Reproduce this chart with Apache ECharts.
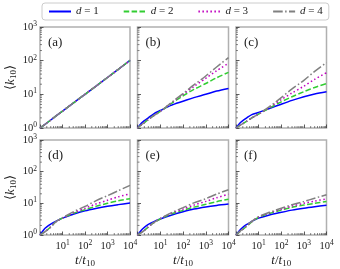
<!DOCTYPE html>
<html><head><meta charset="utf-8">
<script src="https://cdn.jsdelivr.net/npm/echarts@6/dist/echarts.min.js"></script>
<style>html,body{margin:0;padding:0;background:#fff}#c{width:340px;height:269px}</style>
</head><body><div id="c"></div>
<script>
// time points t/t10
const tVals = [1, 1.5, 2, 3, 5, 10, 30, 100, 300, 1000, 3000, 10000];
const legendNames = ['d = 1', 'd = 2', 'd = 3', 'd = 4'];
const panelLabels = ['(a)', '(b)', '(c)', '(d)', '(e)', '(f)'];
const minorMult = [2, 3, 4, 5, 6, 7, 8, 9];
const xDecades = [1, 10, 100, 1000];
const yDecades = [1, 10, 100];

// panel (a): all d coincide
const a_d1 = [1, 1.22, 1.41, 1.73, 2.24, 3.16, 5.5, 10, 17.3, 31.6, 55, 102];
const a_d2 = [1, 1.22, 1.41, 1.73, 2.24, 3.16, 5.5, 10, 17.3, 31.6, 55, 102];
const a_d3 = [1, 1.22, 1.41, 1.73, 2.24, 3.16, 5.5, 10, 17.3, 31.6, 55, 102];
const a_d4 = [1, 1.22, 1.41, 1.73, 2.24, 3.16, 5.5, 10, 17.3, 31.6, 55, 102];
// panel (b)
const b_d1 = [1, 1.4, 1.65, 2.0, 2.6, 3.3, 4.7, 6.2, 8, 10, 12.5, 15];
const b_d2 = [1, 1.25, 1.45, 1.8, 2.3, 3.1, 5.3, 9, 14, 21, 31, 45];
const b_d3 = [1, 1.25, 1.45, 1.8, 2.3, 3.1, 5.5, 10, 17, 30, 50, 84];
const b_d4 = [1, 1.25, 1.45, 1.8, 2.3, 3.1, 5.6, 10.5, 19, 35, 65, 123];
// panel (c)
const c_d1 = [1, 1.4, 1.65, 2.0, 2.5, 2.9, 3.8, 5.1, 6.6, 8.5, 10.3, 12];
const c_d2 = [1, 1.2, 1.35, 1.6, 2.0, 2.6, 3.9, 6, 8.5, 12, 16, 21];
const c_d3 = [1, 1.2, 1.35, 1.6, 2.0, 2.6, 4.1, 7, 11, 17.5, 28, 44];
const c_d4 = [1, 1.2, 1.35, 1.6, 2.0, 2.6, 4.3, 8, 14.5, 26, 48, 88];
// panel (d)
const d_d1 = [1, 1.5, 1.8, 2.2, 2.7, 3.4, 4.5, 5.8, 6.9, 8.1, 9.1, 10.2];
const d_d2 = [1, 1.2, 1.4, 1.8, 2.6, 3.4, 4.8, 6.3, 8, 10, 12, 14];
const d_d3 = [1, 1.2, 1.4, 1.8, 2.6, 3.4, 5, 7, 9.5, 12.5, 16, 20];
const d_d4 = [1, 1.2, 1.4, 1.8, 2.6, 3.5, 5.4, 8, 12, 17.5, 25, 37];
// panel (e)
const e_d1 = [1, 1.45, 1.75, 2.15, 2.6, 3.2, 4.2, 5.4, 6.6, 7.7, 8.6, 9.5];
const e_d2 = [1, 1.2, 1.4, 1.8, 2.4, 3.2, 4.6, 6, 7.6, 9.3, 11.3, 13.4];
const e_d3 = [1, 1.2, 1.4, 1.8, 2.4, 3.3, 4.8, 6.6, 8.8, 11.5, 15, 19.4];
const e_d4 = [1, 1.2, 1.4, 1.8, 2.4, 3.3, 5, 7.3, 10.3, 14, 19.5, 27];
// panel (f)
const f_d1 = [1, 1.45, 1.75, 2.15, 2.7, 3.4, 4.3, 5.2, 6.1, 7, 7.8, 8.7];
const f_d2 = [1, 1.3, 1.5, 1.9, 2.6, 3.6, 4.8, 6.1, 7.5, 8.8, 10, 11.4];
const f_d3 = [1, 1.3, 1.5, 1.95, 2.65, 3.7, 5, 6.5, 8.2, 10, 11.8, 13.8];
const f_d4 = [1, 1.3, 1.55, 2, 2.7, 3.8, 5.2, 7, 9, 11.4, 14.5, 18.7];

const panels = [
  [a_d1, a_d2, a_d3, a_d4], [b_d1, b_d2, b_d3, b_d4], [c_d1, c_d2, c_d3, c_d4],
  [d_d1, d_d2, d_d3, d_d4], [e_d1, e_d2, e_d3, e_d4], [f_d1, f_d2, f_d3, f_d4]
];

const serif = 'Liberation Serif';
const styles = [
  {color: '#0000ff', type: 'solid'},
  {color: '#32cd32', type: [5.5, 2.4]},
  {color: '#bf00bf', type: [1.5, 2.5]},
  {color: '#808080', type: [9.6, 2.4, 1.5, 2.4]}
];
const lefts = [40, 137.5, 236];
const widths = [90, 91, 90.5];
const tops = [27, 140];
const heights = [101, 102];

const rich = {
  b: {fontFamily: serif, fontSize: 10.5, color: '#222'},
  s: {fontFamily: serif, fontSize: 7.5, color: '#222', padding: [0, 0, 6, 0]}
};
function powLabel(v) {
  const e = Math.round(Math.log10(v));
  return '{b|10}{s|' + e + '}';
}
const nameRich = {
  i: {fontFamily: serif, fontStyle: 'italic', fontSize: 13, color: '#222'},
  n: {fontFamily: serif, fontSize: 13, color: '#222'},
  sub: {fontFamily: serif, fontSize: 9, color: '#222', padding: [6, 0, 0, 0]}
};

// minor tick values (axis decoration)
const minorTicks = [];
xDecades.forEach(dec => minorMult.forEach(m => minorTicks.push([m * dec, 'x'])));
yDecades.forEach(dec => minorMult.forEach(m => minorTicks.push([m * dec, 'y'])));

const grid = [], xAxis = [], yAxis = [], series = [], graphic = [];
for (let p = 0; p < 6; p++) {
  const row = Math.floor(p / 3), col = p % 3;
  grid.push({left: lefts[col], top: tops[row], width: widths[col], height: heights[row],
    show: true, borderColor: '#b0b0b0', borderWidth: 1.5, backgroundColor: 'transparent'});
  xAxis.push({
    type: 'log', logBase: 10, min: 1, max: 10000, gridIndex: p,
    axisLine: {show: false},
    axisTick: {show: true, inside: true, length: 3.5, lineStyle: {color: '#333', width: 0.8}},
    splitLine: {show: false},
    axisLabel: {show: row === 1, margin: 4, fontFamily: serif, rich: rich,
      formatter: v => (Math.round(Math.log10(v)) === 0 ? '' : powLabel(v))},
    name: row === 1 ? '{i|t}{n|/}{i|t}{sub|10}' : '',
    nameLocation: 'middle', nameGap: 18,
    nameTextStyle: {fontFamily: serif, rich: nameRich}
  });
  yAxis.push({
    type: 'log', logBase: 10, min: 1, max: 1000, gridIndex: p,
    axisLine: {show: false},
    axisTick: {show: true, inside: true, length: 3.5, lineStyle: {color: '#333', width: 0.8}},
    splitLine: {show: false},
    axisLabel: {show: col === 0, margin: 3, fontFamily: serif, rich: rich, formatter: v => powLabel(v)},
    name: col === 0 ? '{n|⟨}{i|k}{sub|10}{n|⟩}' : '',
    nameLocation: 'middle', nameGap: 22, nameRotate: 90,
    nameTextStyle: {fontFamily: serif, rich: nameRich}
  });
  for (let d = 0; d < 4; d++) {
    series.push({
      type: 'line', name: legendNames[d], xAxisIndex: p, yAxisIndex: p,
      data: tVals.map((t, i) => [t, panels[p][d][i]]),
      smooth: 0.3, symbol: 'none', showSymbol: false, z: 2 + d,
      lineStyle: {color: styles[d].color, type: styles[d].type, width: 1.5},
      itemStyle: {color: styles[d].color}
    });
  }
  series.push({
    type: 'custom', xAxisIndex: p, yAxisIndex: p, silent: true, z: 1,
    data: minorTicks.map((m, i) => [i]),
    renderItem: (params, api) => {
      const mt = minorTicks[api.value(0)];
      let a, b;
      if (mt[1] === 'x') {
        a = api.coord([mt[0], 1]); b = [a[0], a[1] - 2];
      } else {
        a = api.coord([1, mt[0]]); b = [a[0] + 2, a[1]];
      }
      return {type: 'line', shape: {x1: a[0], y1: a[1], x2: b[0], y2: b[1]},
        style: {stroke: '#333', lineWidth: 0.6}};
    },
    encode: {x: -1, y: -1}
  });
  graphic.push({type: 'text', left: lefts[col] + 8, top: tops[row] + 9,
    style: {text: panelLabels[p], font: '13px "' + serif + '"', fill: '#222'}});
}

const chart = echarts.init(document.getElementById('c'), null, {renderer: 'canvas'});
chart.setOption({
  animation: false,
  backgroundColor: '#fff',
  textStyle: {fontFamily: serif},
  legend: {
    data: legendNames, top: 3, left: 42, width: 281,
    itemWidth: 22, itemHeight: 10, itemGap: 24,
    padding: [3, 6, 3, 6],
    borderColor: '#cccccc', borderWidth: 1, borderRadius: 3,
    itemStyle: {opacity: 0},
    formatter: n => '{i|d} = ' + n.slice(4),
    textStyle: {fontFamily: serif, fontSize: 11, color: '#222',
      rich: {i: {fontFamily: serif, fontStyle: 'italic', fontSize: 11, color: '#222'}}}
  },
  grid, xAxis, yAxis, series, graphic
});
</script></body></html>
